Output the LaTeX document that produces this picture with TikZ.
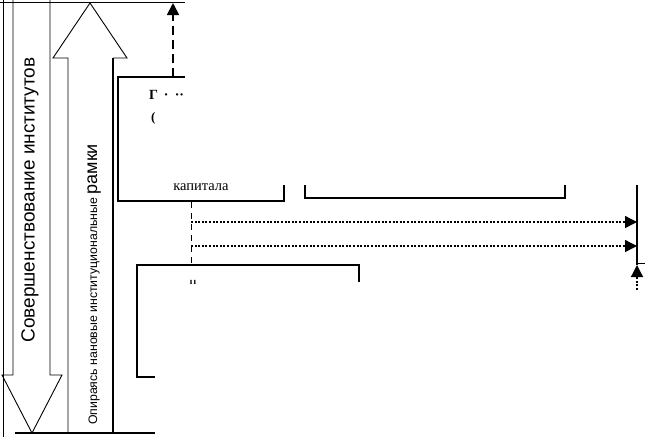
\documentclass[tikz,border=0pt]{standalone}
\usepackage{fontspec}
\setmainfont{Liberation Serif}
\newfontfamily\arialf{Liberation Sans}
\usetikzlibrary{arrows.meta}
\tikzset{
  thinln/.style={line width=0.9pt},
  thickln/.style={line width=1.8pt},
  blockarrow/.style={line width=0.9pt},
  dashconn/.style={line width=1.8pt, dash pattern=on 9pt off 5pt, -{Triangle[length=12pt,width=12pt]}},
  thindash/.style={line width=0.9pt, dash pattern=on 6pt off 5pt},
  dotconn/.style={line width=1.3pt, dash pattern=on 2pt off 1.6pt, -{Triangle[length=12pt,width=12pt]}},
  arrtext/.style={font=\arialf, rotate=90, inner sep=0pt},
  boxtext/.style={inner sep=0pt}
}
\begin{document}
\begin{tikzpicture}[x=1pt,y=-1pt]
\useasboundingbox (0,0) rectangle (645,437);
% frame lines
\draw[thickln] (0,2.5) -- (185,2.5);
\draw[thickln] (15,433) -- (155,433);
\draw[thinln] (3.5,0) -- (3.5,437);
% left down block arrow
\draw[blockarrow] (13,0) -- (13,375) -- (2,375) -- (32,433) -- (62,375) -- (50,375) -- (50,0);
\node[arrtext, font=\arialf\fontsize{19}{21}\selectfont] (leftt) at (30,200) {Совершенствование институтов};
% right up block arrow
\draw[blockarrow] (68,433) -- (68,58) -- (53,58) -- (90,3) -- (127,58) -- (113,58);
\draw[thickln] (113,58) -- (113,433);
\node[arrtext, anchor=base west] (rightt) at (97,425) {\fontsize{12.3}{14}\selectfont Опираясь нановые институциональные \fontsize{18}{20}\selectfont рамки};
% box 1
\draw[thickln] (185,77) -- (118,77) -- (118,201) -- (284,201) -- (284,185);
\coordinate (b1top) at (173,77);
\coordinate (topc) at (173,3);
\node[boxtext, anchor=base west, font=\bfseries\fontsize{14}{16}\selectfont] (t1) at (149,99.5) {Г \,·\;\,··};
\node[boxtext, anchor=base west, font=\bfseries\fontsize{13}{15}\selectfont] (t2) at (151,121) {(};
\node[boxtext, anchor=base, font=\fontsize{14.5}{16}\selectfont] (t3) at (201,190) {капитала};
% box 2 bracket
\draw[line width=1.4pt] (305,185) -- (305,198) -- (565,198) -- (565,185);
% box 3
\draw[thickln] (155,377) -- (137,377) -- (137,265) -- (359,265) -- (359,282);
\node[boxtext, anchor=base, font=\bfseries\fontsize{9}{10}\selectfont] (t4) at (193,284) {ı\,ı};
% connectors
\draw[dashconn] (b1top) -- (topc);
\coordinate (b1bot) at (191,202);
\coordinate (b3top) at (191,265);
\draw[thindash] (b1bot) -- (b3top);
\coordinate (d1s) at (191,222);
\coordinate (d2s) at (191,246);
\coordinate (d1e) at (637,222);
\coordinate (d2e) at (637,246);
\draw[dotconn] (d1s) -- (d1e);
\draw[dotconn] (d2s) -- (d2e);
% right vertical
\coordinate (rvtop) at (637,185);
\coordinate (rvbot) at (637,265);
\draw[thickln] (rvtop) -- (rvbot);
\draw[thinln] (637,263) -- (645,263);
\coordinate (rvin) at (637,290);
\draw[dotconn] (rvin) -- (rvbot);
\end{tikzpicture}
\end{document}
